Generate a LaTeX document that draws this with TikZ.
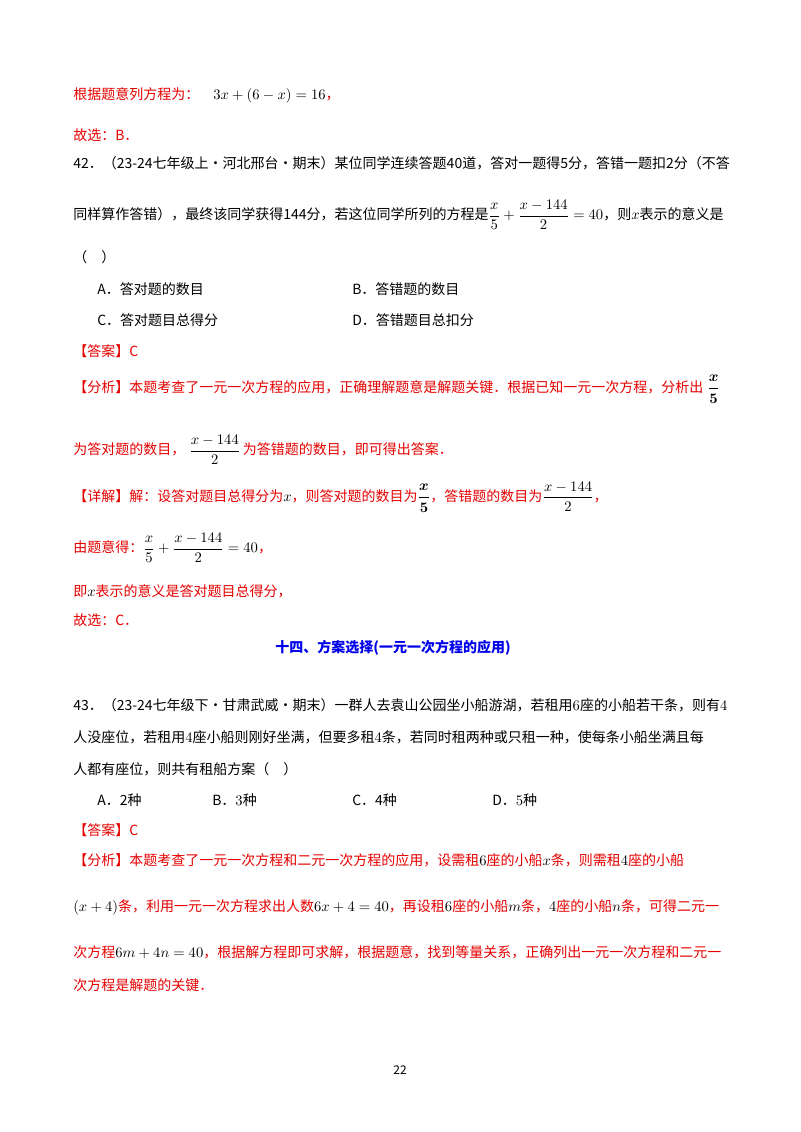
\documentclass[tikz,border=0pt]{standalone}
\usepackage{fontspec}
\usepackage{amsmath}
\setmainfont{Noto Sans CJK SC}
\definecolor{ansred}{RGB}{230,0,0}
\definecolor{headblue}{RGB}{0,0,235}
\newcommand{\mm}[1]{{\color{black}$#1$}}
\tikzset{ln/.style={anchor=west,inner sep=0pt,font=\fontsize{10.5}{12}\selectfont},
 rd/.style={ln,text=ansred}}
\begin{document}
\begin{tikzpicture}[x=0.75pt,y=-0.75pt]
\useasboundingbox[fill=white] (0,0) rectangle (800,1132);
\node[rd] (l1) at (73,95) {根据题意列方程为：\quad\mm{3x+\left(6-x\right)=16}，};
\node[rd] (l2) at (73,135) {故选：B．};
\node[ln] (l3) at (73,163) {42．（23-24七年级上·河北邢台·期末）某位同学连续答题40道，答对一题得5分，答错一题扣2分（不答};
\node[ln] (l4) at (73,215) {同样算作答错），最终该同学获得144分，若这位同学所列的方程是$\dfrac{x}{5}+\dfrac{x-144}{2}=40$，则$x$表示的意义是};
\node[ln] (l5) at (73,257) {（\quad）};
\node[ln] (a1) at (97,289) {A．答对题的数目};
\node[ln] (b1) at (352,289) {B．答错题的数目};
\node[ln] (c1) at (97,320) {C．答对题目总得分};
\node[ln] (d1) at (352,320) {D．答错题目总扣分};
\node[rd] (l6) at (73,351) {【答案】C};
\node[rd] (l7) at (73,389) {【分析】本题考查了一元一次方程的应用，正确理解题意是解题关键．根据已知一元一次方程，分析出\;\mm{\boldsymbol{\dfrac{x}{5}}}};
\node[rd] (l8) at (73,450) {为答对题的数目，\;\mm{\dfrac{x-144}{2}}\,为答错题的数目，即可得出答案．};
\node[rd] (l9) at (73,497) {【详解】解：设答对题目总得分为\mm{x}，则答对题的数目为\mm{\boldsymbol{\dfrac{x}{5}}}，答错题的数目为\mm{\dfrac{x-144}{2}}，};
\node[rd] (l10) at (73,548) {由题意得：\mm{\dfrac{x}{5}+\dfrac{x-144}{2}=40}，};
\node[rd] (l11) at (73,591) {即\mm{x}表示的意义是答对题目总得分，};
\node[rd] (l12) at (73,620) {故选：C．};
\node[ln,anchor=center,text=headblue,font=\fontsize{10.5}{12}\selectfont\bfseries] (h) at (393,648) {十四、方案选择(一元一次方程的应用)};
\node[ln] (l13) at (73,705) {43．（23-24七年级下·甘肃武威·期末）一群人去袁山公园坐小船游湖，若租用$6$座的小船若干条，则有$4$};
\node[ln] (l14) at (73,737) {人没座位，若租用$4$座小船则刚好坐满，但要多租$4$条，若同时租两种或只租一种，使每条小船坐满且每};
\node[ln] (l15) at (73,769) {人都有座位，则共有租船方案（\quad）};
\node[ln] (a2) at (97,800) {A．2种};
\node[ln] (b2) at (212,800) {B．$3$种};
\node[ln] (c2) at (352,800) {C．4种};
\node[ln] (d2) at (492,800) {D．$5$种};
\node[rd] (l16) at (73,830) {【答案】C};
\node[rd] (l17) at (73,860) {【分析】本题考查了一元一次方程和二元一次方程的应用，设需租\mm{6}座的小船\mm{x}条，则需租\mm{4}座的小船};
\node[rd] (l18) at (73,907) {\mm{\left(x+4\right)}条，利用一元一次方程求出人数\mm{6x+4=40}，再设租\mm{6}座的小船\mm{m}条，\mm{4}座的小船\mm{n}条，可得二元一};
\node[rd] (l19) at (73,952) {次方程\mm{6m+4n=40}，根据解方程即可求解，根据题意，找到等量关系，正确列出一元一次方程和二元一};
\node[rd] (l20) at (73,985) {次方程是解题的关键．};
\node[ln,anchor=center,font=\fontsize{9}{10}\selectfont] (pg) at (400,1070) {22};
\end{tikzpicture}
\end{document}
